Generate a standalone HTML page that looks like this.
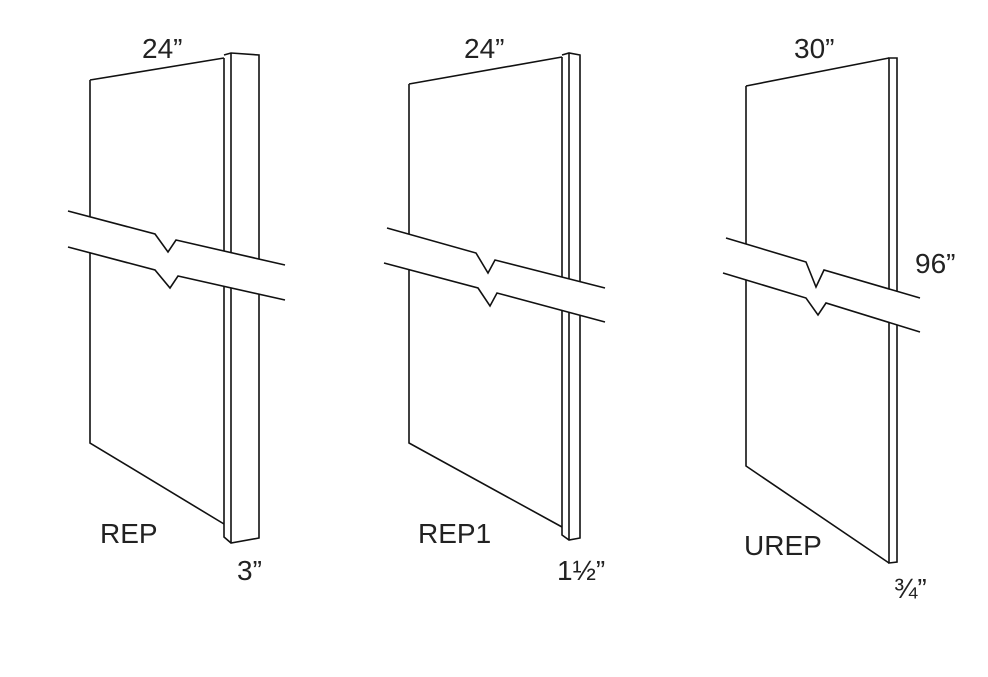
<!DOCTYPE html>
<html><head><meta charset="utf-8"><style>
html,body{margin:0;padding:0;background:#fff}
svg{display:block}
text{font-family:"Liberation Sans","DejaVu Sans",sans-serif;font-size:28px;fill:#222}
</style></head><body>
<svg width="988" height="677" viewBox="0 0 988 677" xmlns="http://www.w3.org/2000/svg">
<g fill="none" stroke="#111" stroke-width="1.6" stroke-linejoin="miter">
<!-- Panel 1 -->
<path d="M90,80 L224,58 M90,80 L90,443 L224,524"/>
<path d="M224,58 L224,524 L224,537 L231,543 L259,538 L259,55 L231,53 L224,55"/>
<path d="M231,53 L231,543"/>
<path d="M68,211 L68,247 L155,270 L170,288 L178,276 L285,300 L285,265 L176,240 L168,252 L155,234 Z" fill="#fff" stroke="none"/>
<path d="M68,211 L155,234 L168,252 L176,240 L285,265"/>
<path d="M68,247 L155,270 L170,288 L178,276 L285,300"/>
<!-- Panel 2 -->
<path d="M409,84 L562,57 M409,84 L409,443 L562,527"/>
<path d="M562,57 L562,527 L562,535 L569,540 L580,538 L580,55 L569,53 L562,55"/>
<path d="M569,53 L569,540"/>
<path d="M387,228 L384,263 L478,288 L490,306 L497,293 L605,322 L605,288 L495,260 L488,273 L476,253 Z" fill="#fff" stroke="none"/>
<path d="M387,228 L476,253 L488,273 L495,260 L605,288"/>
<path d="M384,263 L478,288 L490,306 L497,293 L605,322"/>
<!-- Panel 3 -->
<path d="M746,86 L889,58 M746,86 L746,466 L889,563"/>
<path d="M889,58 L889,563 L897,562 L897,58 Z"/>
<path d="M726,238 L723,273 L806,298 L818,315 L826,303 L920,332 L920,298 L824,270 L816,287 L806,262 Z" fill="#fff" stroke="none"/>
<path d="M726,238 L806,262 L816,287 L824,270 L920,298"/>
<path d="M723,273 L806,298 L818,315 L826,303 L920,332"/>
</g>
<text x="142" y="58">24”</text>
<text x="100" y="543">REP</text>
<text x="237" y="580">3”</text>
<text x="464" y="58">24”</text>
<text x="418" y="543">REP1</text>
<text x="557" y="580">1½”</text>
<text x="794" y="58">30”</text>
<text x="915" y="273">96”</text>
<text x="744" y="555">UREP</text>
<text x="894" y="598" style="font-size:28px">¾”</text>
</svg>
</body></html>
